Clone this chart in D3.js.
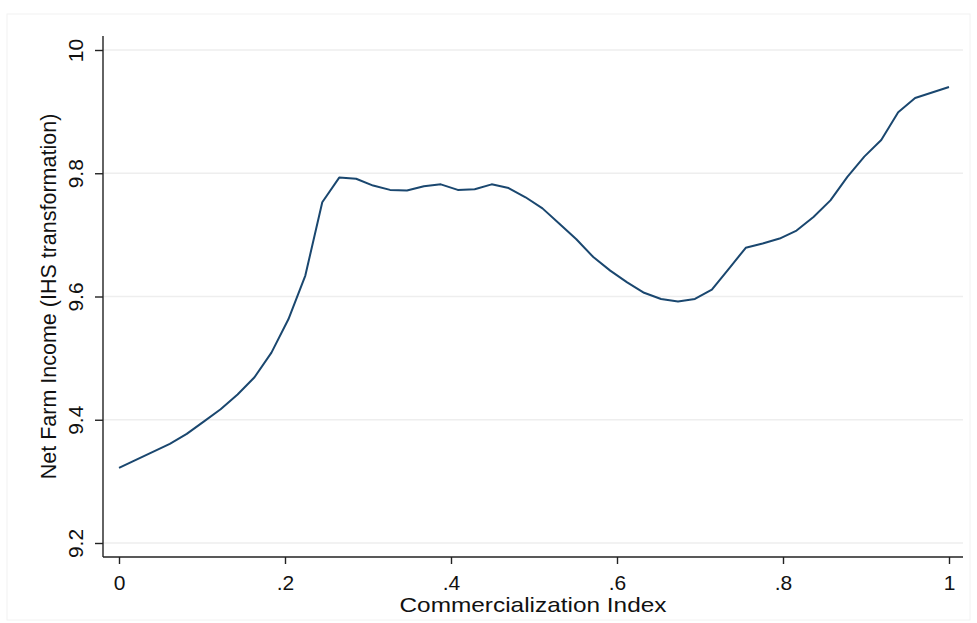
<!DOCTYPE html>
<html lang="en">
<head>
    <meta charset="UTF-8">
    <title>Net Farm Income</title>
    <script src="https://d3js.org/d3.v7.min.js"></script>
    <style>
        body { margin: 0; background: #fff; }
        text { font-family: "Liberation Sans", Arial, sans-serif; fill: #111; }
        .line { fill: none; stroke: #1a476f; stroke-width: 2px; stroke-linejoin: round; }
        .grid line { stroke: #eeeeee; stroke-width: 1.5px; }
        .axis path, .axis line { stroke: #222; stroke-width: 1.4px; }
    </style>
</head>
<body>
<svg id="chart" width="977" height="623"></svg>
<script>
    // commercialization index: 50 evenly spaced points from 0 to 1
    var xIndex = d3.range(50).map(function(i) { return i / 49; });
    var income = [
        9.322, 9.335, 9.348, 9.361, 9.377, 9.397, 9.417, 9.441, 9.469, 9.509,
        9.563, 9.634, 9.753, 9.793, 9.791, 9.780, 9.773, 9.772, 9.779, 9.782,
        9.773, 9.774, 9.782, 9.776, 9.761, 9.743, 9.718, 9.693, 9.664, 9.642,
        9.623, 9.606, 9.596, 9.592, 9.596, 9.611, 9.645, 9.679, 9.686, 9.694,
        9.707, 9.729, 9.756, 9.794, 9.827, 9.854, 9.899, 9.922, 9.931, 9.940
    ];
    var xTicks = [0, 0.2, 0.4, 0.6, 0.8, 1];
    var yTicks = [9.2, 9.4, 9.6, 9.8, 10];

    var data = xIndex.map(function(d, i) { return {x: d, y: income[i]}; });

    var svg = d3.select("#chart");

    // faint outer graph region
    svg.append("rect")
        .attr("x", 7).attr("y", 14)
        .attr("width", 963).attr("height", 606)
        .attr("fill", "none")
        .attr("stroke", "#f2f2f2");

    var x = d3.scaleLinear().domain([0, 1]).range([119, 949]);
    var y = d3.scaleLinear().domain([9.2, 10]).range([543, 50]);

    var plotLeft = 103, plotRight = 963, plotTop = 36, plotBottom = 557;

    // gridlines
    svg.append("g")
        .attr("class", "grid")
        .selectAll("line")
        .data(yTicks)
        .join("line")
        .attr("x1", plotLeft).attr("x2", plotRight)
        .attr("y1", d => y(d)).attr("y2", d => y(d));

    // y axis
    var yAxis = svg.append("g")
        .attr("class", "axis")
        .attr("transform", "translate(" + plotLeft + ",0)")
        .call(d3.axisLeft(y).tickValues(yTicks).tickSize(8).tickSizeOuter(0)
            .tickFormat(d => d === 10 ? "10" : d3.format(".1f")(d)));
    yAxis.select(".domain").attr("d", "M0," + plotTop + "V" + plotBottom);
    yAxis.selectAll(".tick text")
        .attr("x", null).attr("dy", null)
        .attr("text-anchor", "middle")
        .attr("transform", "translate(-20,0) rotate(-90)")
        .style("font-size", "21px")
        .style("font-family", "'Liberation Sans', Arial, sans-serif")
        .attr("fill", "#111");

    // x axis
    var xAxis = svg.append("g")
        .attr("class", "axis")
        .attr("transform", "translate(0," + plotBottom + ")")
        .call(d3.axisBottom(x).tickValues(xTicks).tickSize(7).tickSizeOuter(0)
            .tickFormat(d => d === 0 ? "0" : d === 1 ? "1" : d3.format(".1f")(d).replace(/^0/, "")));
    xAxis.select(".domain").attr("d", "M" + plotLeft + ",0H" + plotRight);
    xAxis.selectAll(".tick text")
        .attr("y", 33).attr("dy", null)
        .style("font-size", "21px")
        .style("font-family", "'Liberation Sans', Arial, sans-serif")
        .attr("fill", "#111");

    // the line
    var line = d3.line()
        .x(d => x(d.x))
        .y(d => y(d.y));

    svg.append("path")
        .datum(data)
        .attr("class", "line")
        .attr("d", line);

    // axis titles
    svg.append("text")
        .attr("x", (plotLeft + plotRight) / 2)
        .attr("y", 612)
        .attr("text-anchor", "middle")
        .attr("textLength", 267)
        .attr("lengthAdjust", "spacingAndGlyphs")
        .style("font-size", "21px")
        .text("Commercialization Index");

    svg.append("text")
        .attr("transform", "translate(56," + ((plotTop + plotBottom) / 2) + ") rotate(-90)")
        .attr("text-anchor", "middle")
        .style("font-size", "21.5px")
        .text("Net Farm Income (IHS transformation)");
</script>
</body>
</html>
